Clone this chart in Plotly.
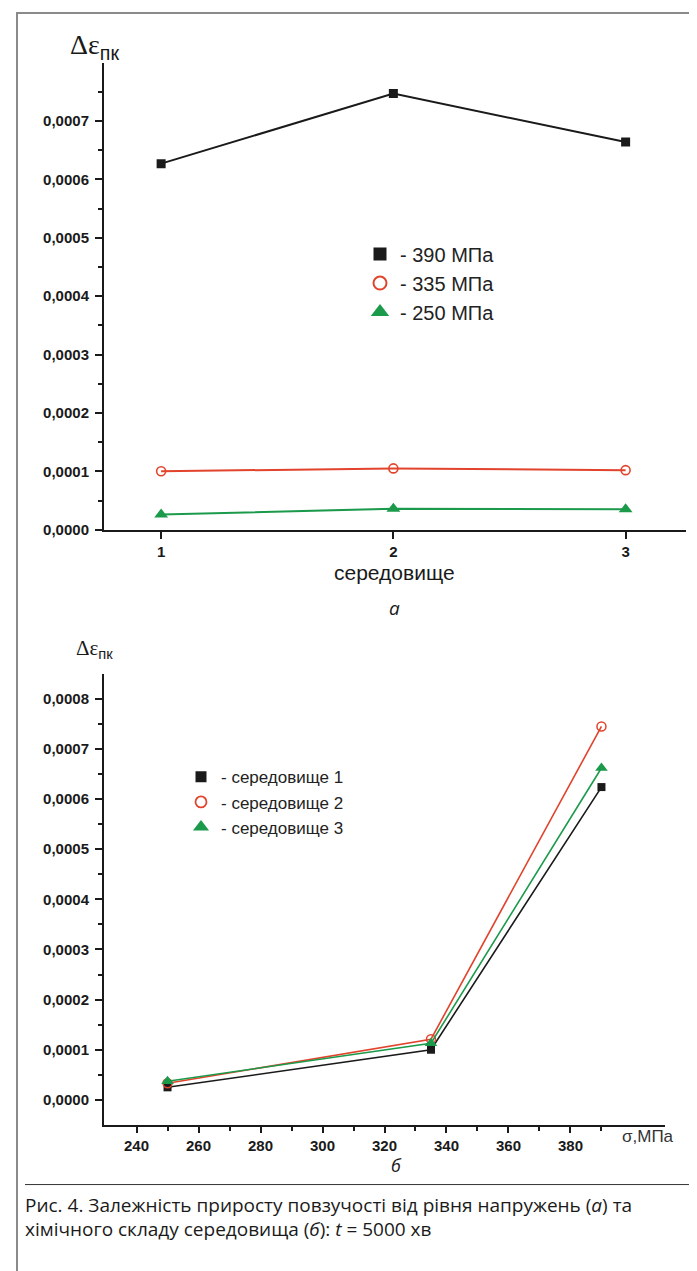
import plotly.graph_objects as go

# ---------- data ----------
# panel a: x = environment number
env = [1, 2, 3]
s390 = [0.000627, 0.000747, 0.000664]
s335 = [0.000100, 0.000105, 0.000102]
s250 = [0.000026, 0.000036, 0.000035]
legend_a = ["- 390 МПа", "- 335 МПа", "- 250 МПа"]

# panel b: x = stress, MPa
sigma = [250, 335, 390]
env1 = [0.000025, 0.000100, 0.000624]
env2 = [0.000033, 0.000121, 0.000745]
env3 = [0.000037, 0.000113, 0.000662]
legend_b = ["- середовище 1", "- середовище 2", "- середовище 3"]

y_ticks_a = [0.0, 0.0001, 0.0002, 0.0003, 0.0004, 0.0005, 0.0006, 0.0007]
y_ticks_b = [0.0, 0.0001, 0.0002, 0.0003, 0.0004, 0.0005, 0.0006, 0.0007, 0.0008]
x_ticks_b = [240, 260, 280, 300, 320, 340, 360, 380]

BLACK = "#1a1a1a"
RED = "#e2432c"
GREEN = "#1c9a4b"
W, H = 697, 1271


def fmt(v):
    return f"{v:.4f}".replace(".", ",")


def px(x):
    return x / W


def py(y):
    return 1 - y / H


fig = go.Figure()

sq = dict(symbol="square", color=BLACK, size=9)
ci = dict(symbol="circle-open", color=RED, size=9, line=dict(width=1.6, color=RED))
tr = dict(symbol="triangle-up", color=GREEN, size=12)
sq_l = dict(symbol="square", color=BLACK, size=13)
ci_l = dict(symbol="circle-open", color=RED, size=13, line=dict(width=2, color=RED))
tr_l = dict(symbol="triangle-up", color=GREEN, size=16)

# panel a series
for ys, col, mk in [(s390, BLACK, sq), (s335, RED, ci), (s250, GREEN, tr)]:
    fig.add_trace(go.Scatter(x=env, y=ys, mode="lines+markers", line=dict(color=col, width=2),
                             marker=mk, showlegend=False, xaxis="x", yaxis="y"))
# panel a legend entries
for name, mk in zip(legend_a, [sq_l, ci_l, tr_l]):
    fig.add_trace(go.Scatter(x=[None], y=[None], mode="markers", marker=mk, name=name,
                             legend="legend", xaxis="x", yaxis="y"))

sq_b = dict(symbol="square", color=BLACK, size=8)
ci_b = dict(symbol="circle-open", color=RED, size=9, line=dict(width=1.5, color=RED))
tr_b = dict(symbol="triangle-up", color=GREEN, size=11)
sq_bl = dict(symbol="square", color=BLACK, size=11)
ci_bl = dict(symbol="circle-open", color=RED, size=11, line=dict(width=1.8, color=RED))
tr_bl = dict(symbol="triangle-up", color=GREEN, size=14)

# panel b series
for ys, col, mk in [(env1, BLACK, sq_b), (env2, RED, ci_b), (env3, GREEN, tr_b)]:
    fig.add_trace(go.Scatter(x=sigma, y=ys, mode="lines+markers", line=dict(color=col, width=1.6),
                             marker=mk, showlegend=False, xaxis="x2", yaxis="y2"))
for name, mk in zip(legend_b, [sq_bl, ci_bl, tr_bl]):
    fig.add_trace(go.Scatter(x=[None], y=[None], mode="markers", marker=mk, name=name,
                             legend="legend2", xaxis="x2", yaxis="y2"))

tickfont = dict(family="Liberation Sans", size=15, color=BLACK, weight="bold")
axis_common = dict(showline=True, linecolor=BLACK, linewidth=2, ticks="outside",
                   tickwidth=1.5, tickcolor=BLACK, showgrid=False, zeroline=False,
                   tickfont=tickfont, mirror=False)
minor_y = dict(tickmode="array", tickvals=[0.00005 + 0.0001 * i for i in range(8)],
               ticks="outside", ticklen=4, tickwidth=1.5, tickcolor=BLACK)

fig.update_layout(
    width=W, height=H,
    margin=dict(l=0, r=0, t=0, b=0),
    paper_bgcolor="white", plot_bgcolor="white",
    xaxis=dict(domain=[px(96), px(678)], anchor="y", range=[0.754, 3.26],
               tickmode="array", tickvals=env, ticktext=[str(v) for v in env],
               ticklen=7, ticklabelstandoff=0, **axis_common),
    yaxis=dict(domain=[py(525), py(55)], anchor="x", range=[0, 0.0008],
               tickmode="array", tickvals=y_ticks_a, ticktext=[fmt(v) for v in y_ticks_a],
               ticklen=7, ticklabelstandoff=3, minor=minor_y, **axis_common),
    xaxis2=dict(domain=[px(96), px(657)], anchor="y2", range=[229.5, 410.5],
                tickmode="array", tickvals=x_ticks_b, ticktext=[str(v) for v in x_ticks_b],
                ticklen=6, ticklabelstandoff=0,
                minor=dict(tickmode="array", tickvals=[250 + 20 * i for i in range(8)],
                           ticks="outside", ticklen=4, tickwidth=1.5, tickcolor=BLACK),
                **axis_common),
    yaxis2=dict(domain=[py(1124), py(670)], anchor="x2", range=[-0.00005, 0.00085],
                tickmode="array", tickvals=y_ticks_b, ticktext=[fmt(v) for v in y_ticks_b],
                ticklen=7, ticklabelstandoff=3, minor=minor_y, **axis_common),
    legend=dict(x=px(352), y=py(228), xanchor="left", yanchor="top", bgcolor="rgba(0,0,0,0)",
                font=dict(family="Liberation Sans", size=20, color="#222"), itemwidth=30,
                tracegroupgap=0),
    legend2=dict(x=px(173), y=py(756), xanchor="left", yanchor="top", bgcolor="rgba(0,0,0,0)",
                 font=dict(family="Liberation Sans", size=17, color="#222"), itemwidth=30,
                 tracegroupgap=0),
    showlegend=True,
)

sub = "<sub><span style='font-family:Liberation Sans'>пк</span></sub>"
ann = []
# y-axis titles
ann.append(dict(x=px(60), y=py(39), xref="paper", yref="paper", text="Δε" + sub, showarrow=False,
                xanchor="left", yanchor="middle",
                font=dict(family="Liberation Serif", size=28, color=BLACK)))
ann.append(dict(x=px(66), y=py(645), xref="paper", yref="paper", text="Δε" + sub, showarrow=False,
                xanchor="left", yanchor="middle",
                font=dict(family="Liberation Serif", size=21, color=BLACK)))
# x-axis titles
ann.append(dict(x=px(386), y=py(568), xref="paper", yref="paper", text="середовище", showarrow=False,
                xanchor="center", yanchor="middle",
                font=dict(family="Liberation Sans", size=21, color=BLACK)))
ann.append(dict(x=px(612), y=py(1136), xref="paper", yref="paper", text="σ,МПа", showarrow=False,
                xanchor="left", yanchor="middle",
                font=dict(family="Liberation Sans", size=17, color="#333")))
# panel letters
ann.append(dict(x=px(386), y=py(604), xref="paper", yref="paper", text="<i>а</i>", showarrow=False,
                xanchor="center", yanchor="middle",
                font=dict(family="Open Sans", size=19, color=BLACK)))
ann.append(dict(x=px(388), y=py(1164), xref="paper", yref="paper", text="<i>б</i>", showarrow=False,
                xanchor="center", yanchor="middle",
                font=dict(family="Open Sans", size=18, color=BLACK)))
# caption
ann.append(dict(x=px(15), y=py(1205), xref="paper", yref="paper",
                text="Рис. 4. Залежність приросту повзучості від рівня напружень (<i>а</i>) та",
                showarrow=False, xanchor="left", yanchor="middle",
                font=dict(family="Open Sans", size=19, color="#1a1a1a")))
ann.append(dict(x=px(15), y=py(1229), xref="paper", yref="paper",
                text="хімічного складу середовища (<i>б</i>): <i>t</i> = 5000 хв",
                showarrow=False, xanchor="left", yanchor="middle",
                font=dict(family="Open Sans", size=19, color="#1a1a1a")))
fig.update_layout(annotations=ann)

fig.update_layout(shapes=[
    dict(type="rect", xref="paper", yref="paper", x0=px(9), x1=px(688), y0=-0.01, y1=py(5),
         line=dict(color="#8a8a8a", width=2), fillcolor="rgba(0,0,0,0)", layer="below"),
    dict(type="line", xref="paper", yref="paper", x0=px(17), x1=px(682), y0=py(1184), y1=py(1184),
         line=dict(color="#333", width=1)),
])

fig.write_html("out.html")
